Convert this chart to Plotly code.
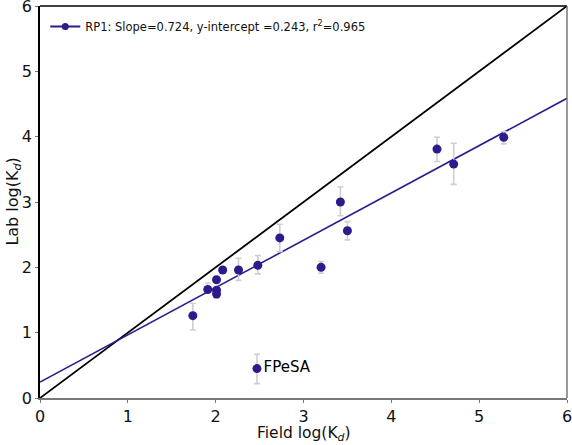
import plotly.graph_objects as go

# Data
field_logkd = [1.74, 1.91, 2.01, 2.01, 2.01, 2.08, 2.26, 2.48, 2.73, 3.20, 3.42, 3.50, 4.52, 4.71, 5.28]
lab_logkd   = [1.26, 1.66, 1.59, 1.65, 1.81, 1.96, 1.96, 2.03, 2.45, 2.00, 3.00, 2.56, 3.81, 3.58, 3.99]
err_plus    = [0.19, 0.10, 0.00, 0.00, 0.00, 0.00, 0.18, 0.15, 0.21, 0.09, 0.23, 0.14, 0.18, 0.32, 0.09]
err_minus   = [0.22, 0.00, 0.06, 0.00, 0.00, 0.00, 0.16, 0.13, 0.21, 0.09, 0.21, 0.14, 0.19, 0.31, 0.10]

outlier_x = [2.47]
outlier_y = [0.45]
outlier_err_plus = [0.22]
outlier_err_minus = [0.23]
outlier_label = ["FPeSA"]

slope = 0.724
intercept = 0.243
r2 = 0.965
fit_x = [0, 6]
one_to_one = [0, 6]

axis_ticks = [0, 1, 2, 3, 4, 5, 6]
x_title = "Field log(K<sub><i>d</i></sub>)"
y_title = "Lab log(K<sub><i>d</i></sub>)"

mark_color = "#2e1a8c"
err_color = "#cfcfcf"

fig = go.Figure()

# 1:1 line
fig.add_trace(go.Scatter(x=one_to_one, y=one_to_one, mode="lines",
                         line=dict(color="black", width=1.8), showlegend=False, hoverinfo="skip"))
# fit line
fig.add_trace(go.Scatter(x=fit_x, y=[slope * v + intercept for v in fit_x], mode="lines",
                         line=dict(color=mark_color, width=1.6), showlegend=False))
# data
fig.add_trace(go.Scatter(
    x=field_logkd, y=lab_logkd, mode="markers",
    marker=dict(color=mark_color, size=9),
    error_y=dict(type="data", array=err_plus, arrayminus=err_minus, color=err_color, thickness=1.6, width=3),
    showlegend=False))
# outlier
fig.add_trace(go.Scatter(
    x=outlier_x, y=outlier_y, mode="markers+text", text=outlier_label, textposition="middle right",
    textfont=dict(family="DejaVu Sans", size=15, color="black"),
    marker=dict(color=mark_color, size=9),
    error_y=dict(type="data", array=outlier_err_plus, arrayminus=outlier_err_minus, color=err_color, thickness=1.6, width=3),
    showlegend=False))
# legend entry
fig.add_trace(go.Scatter(
    x=[None], y=[None], mode="lines+markers",
    line=dict(color=mark_color, width=2), marker=dict(color=mark_color, size=7),
    name=f"RP1: Slope={slope}, y-intercept ={intercept}, r<sup>2</sup>={r2}"))

axis_common = dict(range=[0, 6], tickvals=axis_ticks, ticks="outside", ticklen=3, tickcolor="#777777",
                   showgrid=False, zeroline=False, showline=True, ticklabeloverflow="allow",
                   automargin=False,
                   tickfont=dict(family="DejaVu Sans", size=16, color="#111111"))

fig.update_layout(
    width=572, height=445,
    margin=dict(l=40, r=5, t=6, b=47),
    plot_bgcolor="white", paper_bgcolor="white",
    font=dict(family="DejaVu Sans", color="#111111"),
    xaxis=dict(**axis_common, linecolor="#777777", linewidth=1.5),
    yaxis=dict(**axis_common, linecolor="black", linewidth=1.5),
    legend=dict(x=0.01, y=0.985, xanchor="left", yanchor="top", bgcolor="rgba(255,255,255,0)",
                font=dict(family="DejaVu Sans", size=11.5, color="#111111")),
    annotations=[
        dict(text=x_title, xref="paper", yref="paper", x=0.5, y=-0.12, xanchor="center", yanchor="bottom",
             showarrow=False, borderpad=0, font=dict(family="DejaVu Sans", size=15.5, color="#111111")),
        dict(text=y_title, xref="paper", yref="paper", x=-0.052, y=0.5, xanchor="center", yanchor="middle",
             textangle=-90, showarrow=False, font=dict(family="DejaVu Sans", size=16, color="#111111")),
    ],
    shapes=[
        dict(type="line", xref="paper", yref="paper", x0=0, x1=1, y0=1, y1=1, line=dict(color="black", width=1.5)),
        dict(type="line", xref="paper", yref="paper", x0=1, x1=1, y0=0, y1=1, line=dict(color="#777777", width=1.5)),
    ],
)

fig.write_html("out.html")
